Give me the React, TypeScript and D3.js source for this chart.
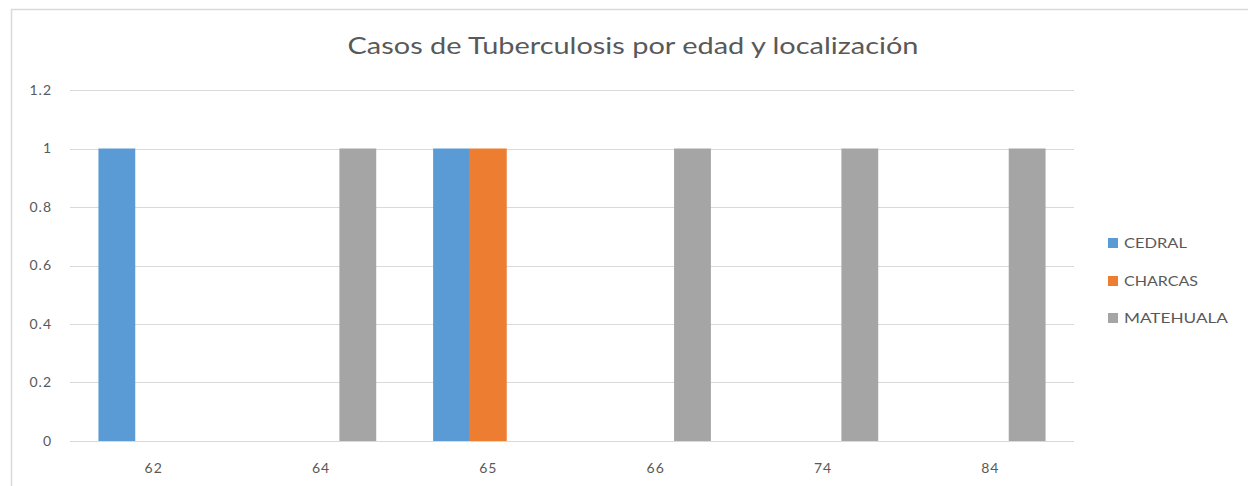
import React from "react";
import * as d3 from "d3";

const categories = ["62", "64", "65", "66", "74", "84"];
const seriesNames = ["CEDRAL", "CHARCAS", "MATEHUALA"];
const cedral = [1, 0, 1, 0, 0, 0];
const charcas = [0, 0, 1, 0, 0, 0];
const matehuala = [0, 1, 0, 1, 1, 1];
const yTicks = [0, 0.2, 0.4, 0.6, 0.8, 1, 1.2];
const colors = ["#5B9BD5", "#ED7D31", "#A5A5A5"];
const title = "Casos de Tuberculosis por edad y localización";

const W = 1248;
const H = 486;
const plot = { left: 70, right: 1074, top: 90, bottom: 441 };
const FONT = "Lato, 'Open Sans', sans-serif";

export default function App() {
  const values = [cedral, charcas, matehuala];
  const x0 = d3
    .scaleBand<string>()
    .domain(categories)
    .range([plot.left, plot.right])
    .paddingInner(0)
    .paddingOuter(0);
  const bw = x0.bandwidth();
  const groupPad = bw * 0.17;
  const x1 = d3
    .scaleBand<string>()
    .domain(seriesNames)
    .range([groupPad, bw - groupPad])
    .padding(0);
  const y = d3.scaleLinear().domain([0, 1.2]).range([plot.bottom, plot.top]);

  const legendY = [243, 281, 318];
  const legendW = [63, 74, 104];

  return (
    <svg
      width={W}
      height={H}
      style={{ position: "absolute", left: 0, top: 0, background: "#fff" }}
      fontFamily={FONT}
    >
      <rect x={0} y={0} width={W} height={H} fill="#fff" />
      <rect x={11.5} y={9.5} width={W + 20} height={H + 20} fill="none" stroke="#d9d9d9" strokeWidth={1.5} />
      <text
        x={633}
        y={54}
        textAnchor="middle"
        fontSize={24}
        fill="#595959"
        textLength={571}
        lengthAdjust="spacingAndGlyphs"
      >
        {title}
      </text>
      {yTicks.map((t) => (
        <g key={t}>
          <line
            x1={plot.left}
            x2={plot.right}
            y1={Math.round(y(t)) + 0.5}
            y2={Math.round(y(t)) + 0.5}
            stroke="#d9d9d9"
            strokeWidth={1}
          />
          <text
            x={52}
            y={y(t)}
            dy="0.35em"
            textAnchor="end"
            fontSize={14}
            letterSpacing={1}
            fill="#595959"
          >
            {String(t)}
          </text>
        </g>
      ))}
      {categories.map((c, i) => (
        <g key={c}>
          {seriesNames.map((s, j) =>
            values[j][i] > 0 ? (
              <rect
                key={s}
                x={(x0(c) as number) + (x1(s) as number)}
                y={y(values[j][i])}
                width={x1.bandwidth()}
                height={y(0) - y(values[j][i])}
                fill={colors[j]}
              />
            ) : null
          )}
          <text
            x={(x0(c) as number) + bw / 2}
            y={468}
            dy="0.35em"
            textAnchor="middle"
            fontSize={14}
            letterSpacing={1}
            fill="#595959"
          >
            {c}
          </text>
        </g>
      ))}
      {seriesNames.map((s, j) => (
        <g key={s}>
          <rect x={1108} y={legendY[j] - 5} width={10} height={10} fill={colors[j]} />
          <text
            x={1124}
            y={legendY[j]}
            dy="0.35em"
            fontSize={14}
            fill="#595959"
            textLength={legendW[j]}
            lengthAdjust="spacingAndGlyphs"
          >
            {s}
          </text>
        </g>
      ))}
    </svg>
  );
}
